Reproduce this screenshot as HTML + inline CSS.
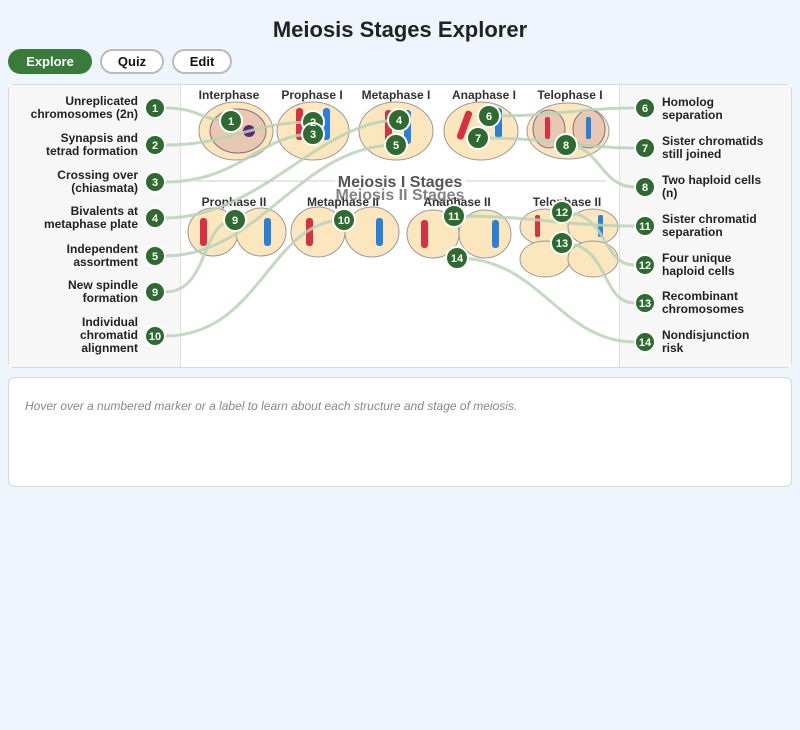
<!DOCTYPE html>
<html><head><meta charset="utf-8"><style>
body{margin:0;width:800px;height:730px;background:#eef5fd;font-family:"Liberation Sans",sans-serif;position:relative;overflow:hidden}
h1{position:absolute;top:17px;left:0;width:800px;text-align:center;margin:0;font-size:22px;font-weight:bold;color:#222}
.btn{position:absolute;top:49px;height:25px;border-radius:13px;font-size:13px;font-weight:bold;text-align:center;line-height:21px;box-sizing:border-box}
.panel{position:absolute;left:8px;top:84px;width:784px;height:284px;background:#fff;border:1px solid #d8d8d8;border-radius:6px;box-sizing:border-box;overflow:hidden}
.info{position:absolute;left:8px;top:377px;width:784px;height:110px;background:#fff;border:1px solid #d8d8d8;border-radius:6px;box-sizing:border-box;padding:21px 16px;font-size:12px;font-style:italic;color:#888}
.lab{position:absolute;font-size:12px;font-weight:bold;color:#222;line-height:13px}
.l{right:662px;text-align:right}
.r{left:662px}
</style></head><body>
<h1>Meiosis Stages Explorer</h1>
<div class="btn" style="left:8px;width:84px;background:#3a7a3a;color:#fff;line-height:25px">Explore</div>
<div class="btn" style="left:100px;width:64px;background:#fff;border:2px solid #bbb;color:#111">Quiz</div>
<div class="btn" style="left:172px;width:60px;background:#fff;border:2px solid #bbb;color:#111">Edit</div>
<div class="panel"></div>
<svg style="position:absolute;left:0;top:0" width="800" height="730">
<rect x="9" y="85" width="171" height="282" fill="#f7f7f7"/>
<line x1="180.5" y1="85" x2="180.5" y2="367" stroke="#e0e0e0"/>
<rect x="620" y="85" width="171" height="282" fill="#f7f7f7"/>
<line x1="619.5" y1="85" x2="619.5" y2="367" stroke="#e0e0e0"/>
<line x1="196" y1="181" x2="335" y2="181" stroke="#ccc"/><line x1="466" y1="181" x2="606" y2="181" stroke="#ccc"/>
<g fill="#fbe6bd" stroke="#999" stroke-width="1">
<ellipse cx="236" cy="131" rx="37" ry="29"/><ellipse cx="313" cy="131" rx="36" ry="29"/><ellipse cx="396" cy="131" rx="37" ry="29"/><ellipse cx="481" cy="131" rx="37" ry="29"/>
<ellipse cx="568" cy="131" rx="41" ry="28"/>
<ellipse cx="213" cy="232" rx="25" ry="24"/><ellipse cx="261" cy="232" rx="25" ry="24"/><ellipse cx="318" cy="232" rx="27" ry="25"/><ellipse cx="372" cy="232" rx="27" ry="25"/>
<ellipse cx="433" cy="234" rx="26" ry="24"/><ellipse cx="485" cy="234" rx="26" ry="24"/>
<ellipse cx="545" cy="227" rx="25" ry="18"/><ellipse cx="593" cy="227" rx="25" ry="18"/><ellipse cx="545" cy="259" rx="25" ry="18"/><ellipse cx="593" cy="259" rx="25" ry="18"/>
</g>
<ellipse cx="238" cy="131" rx="28" ry="22" fill="#e8c8b0" stroke="#8a6a8a"/>
<ellipse cx="549" cy="129" rx="16" ry="19" fill="#e8c8b0" stroke="#8a6a8a"/><ellipse cx="589" cy="129" rx="16" ry="19" fill="#e8c8b0" stroke="#8a6a8a"/>
<circle cx="249" cy="131" r="6" fill="#5a2a7a"/>
<g fill="#d83040"><rect x="296" y="108" width="7" height="32" rx="3"/><rect x="385" y="110" width="7" height="34" rx="3"/><rect x="461" y="110" width="7" height="30" rx="3" transform="rotate(20 464 125)"/><rect x="545" y="117" width="5" height="22" rx="2"/>
<rect x="200" y="218" width="7" height="28" rx="3"/><rect x="306" y="218" width="7" height="28" rx="3"/><rect x="421" y="220" width="7" height="28" rx="3"/><rect x="535" y="215" width="5" height="22" rx="2"/></g>
<g fill="#2a80d8"><rect x="323" y="108" width="7" height="32" rx="3"/><rect x="404" y="110" width="7" height="34" rx="3"/><rect x="495" y="108" width="7" height="30" rx="3"/><rect x="586" y="117" width="5" height="22" rx="2"/>
<rect x="264" y="218" width="7" height="28" rx="3"/><rect x="376" y="218" width="7" height="28" rx="3"/><rect x="492" y="220" width="7" height="28" rx="3"/><rect x="598" y="215" width="5" height="22" rx="2"/></g>
<g font-family="Liberation Sans" font-weight="bold" font-size="12" fill="#333" text-anchor="middle">
<text x="229" y="99">Interphase</text><text x="312" y="99">Prophase I</text><text x="396" y="99">Metaphase I</text><text x="484" y="99">Anaphase I</text><text x="570" y="99">Telophase I</text>
<text x="234" y="206">Prophase II</text><text x="343" y="206">Metaphase II</text><text x="457" y="206">Anaphase II</text><text x="567" y="206">Telophase II</text>
</g>
<text x="400" y="200" font-family="Liberation Sans" font-weight="bold" font-size="16" fill="#666" text-anchor="middle" opacity="0.8">Meiosis II Stages</text>
<text x="400" y="187" font-family="Liberation Sans" font-weight="bold" font-size="16" fill="#555" text-anchor="middle">Meiosis I Stages</text>
<g fill="none" stroke="#b9d3b6" stroke-width="3" opacity="0.85">
<path d="M165 108 C200 108,200 121,231 121"/>
<path d="M165 145 C230 145,250 122,313 122"/>
<path d="M165 182 C240 182,260 134,313 134"/>
<path d="M165 218 C260 218,320 120,399 120"/>
<path d="M165 256 C260 256,300 145,396 145"/>
<path d="M165 292 C210 292,200 220,235 220"/>
<path d="M165 336 C260 336,270 220,344 220"/>
<path d="M489 116 C560 116,580 108,635 108"/>
<path d="M478 138 C560 138,580 148,635 148"/>
<path d="M566 145 C600 145,600 187,635 187"/>
<path d="M454 216 C540 216,560 226,635 226"/>
<path d="M562 212 C610 212,600 265,635 265"/>
<path d="M562 243 C610 243,600 303,635 303"/>
<path d="M457 258 C540 258,560 342,635 342"/>
</g>
<g font-family="Liberation Sans" font-weight="bold" font-size="11" fill="#fff" text-anchor="middle">
<g fill="#2f6b30" stroke="#fff" stroke-width="2">
<circle cx="155" cy="108" r="10"/><circle cx="155" cy="145" r="10"/><circle cx="155" cy="182" r="10"/><circle cx="155" cy="218" r="10"/><circle cx="155" cy="256" r="10"/><circle cx="155" cy="292" r="10"/><circle cx="155" cy="336" r="10"/>
<circle cx="645" cy="108" r="10"/><circle cx="645" cy="148" r="10"/><circle cx="645" cy="187" r="10"/><circle cx="645" cy="226" r="10"/><circle cx="645" cy="265" r="10"/><circle cx="645" cy="303" r="10"/><circle cx="645" cy="342" r="10"/>
<circle cx="231" cy="121" r="11"/><circle cx="313" cy="122" r="11"/><circle cx="313" cy="134" r="11"/><circle cx="399" cy="120" r="11"/><circle cx="396" cy="145" r="11"/><circle cx="489" cy="116" r="11"/><circle cx="478" cy="138" r="11"/><circle cx="566" cy="145" r="11"/>
<circle cx="235" cy="220" r="11"/><circle cx="344" cy="220" r="11"/><circle cx="454" cy="216" r="11"/><circle cx="562" cy="212" r="11"/><circle cx="562" cy="243" r="11"/><circle cx="457" cy="258" r="11"/>
</g>
<text x="155" y="112">1</text><text x="155" y="149">2</text><text x="155" y="186">3</text><text x="155" y="222">4</text><text x="155" y="260">5</text><text x="155" y="296">9</text><text x="155" y="340">10</text>
<text x="645" y="112">6</text><text x="645" y="152">7</text><text x="645" y="191">8</text><text x="645" y="230">11</text><text x="645" y="269">12</text><text x="645" y="307">13</text><text x="645" y="346">14</text>
<text x="231" y="125">1</text><text x="313" y="126">2</text><text x="313" y="138">3</text><text x="399" y="124">4</text><text x="396" y="149">5</text><text x="489" y="120">6</text><text x="478" y="142">7</text><text x="566" y="149">8</text>
<text x="235" y="224">9</text><text x="344" y="224">10</text><text x="454" y="220">11</text><text x="562" y="216">12</text><text x="562" y="247">13</text><text x="457" y="262">14</text>
</g>
</svg>
<div class="lab l" style="top:95px">Unreplicated<br>chromosomes (2n)</div>
<div class="lab l" style="top:132px">Synapsis and<br>tetrad formation</div>
<div class="lab l" style="top:169px">Crossing over<br>(chiasmata)</div>
<div class="lab l" style="top:205px">Bivalents at<br>metaphase plate</div>
<div class="lab l" style="top:243px">Independent<br>assortment</div>
<div class="lab l" style="top:279px">New spindle<br>formation</div>
<div class="lab l" style="top:316px">Individual<br>chromatid<br>alignment</div>
<div class="lab r" style="top:96px">Homolog<br>separation</div>
<div class="lab r" style="top:135px">Sister chromatids<br>still joined</div>
<div class="lab r" style="top:174px">Two haploid cells<br>(n)</div>
<div class="lab r" style="top:213px">Sister chromatid<br>separation</div>
<div class="lab r" style="top:252px">Four unique<br>haploid cells</div>
<div class="lab r" style="top:290px">Recombinant<br>chromosomes</div>
<div class="lab r" style="top:329px">Nondisjunction<br>risk</div>
<div class="info">Hover over a numbered marker or a label to learn about each structure and stage of meiosis.</div>
</body></html>
